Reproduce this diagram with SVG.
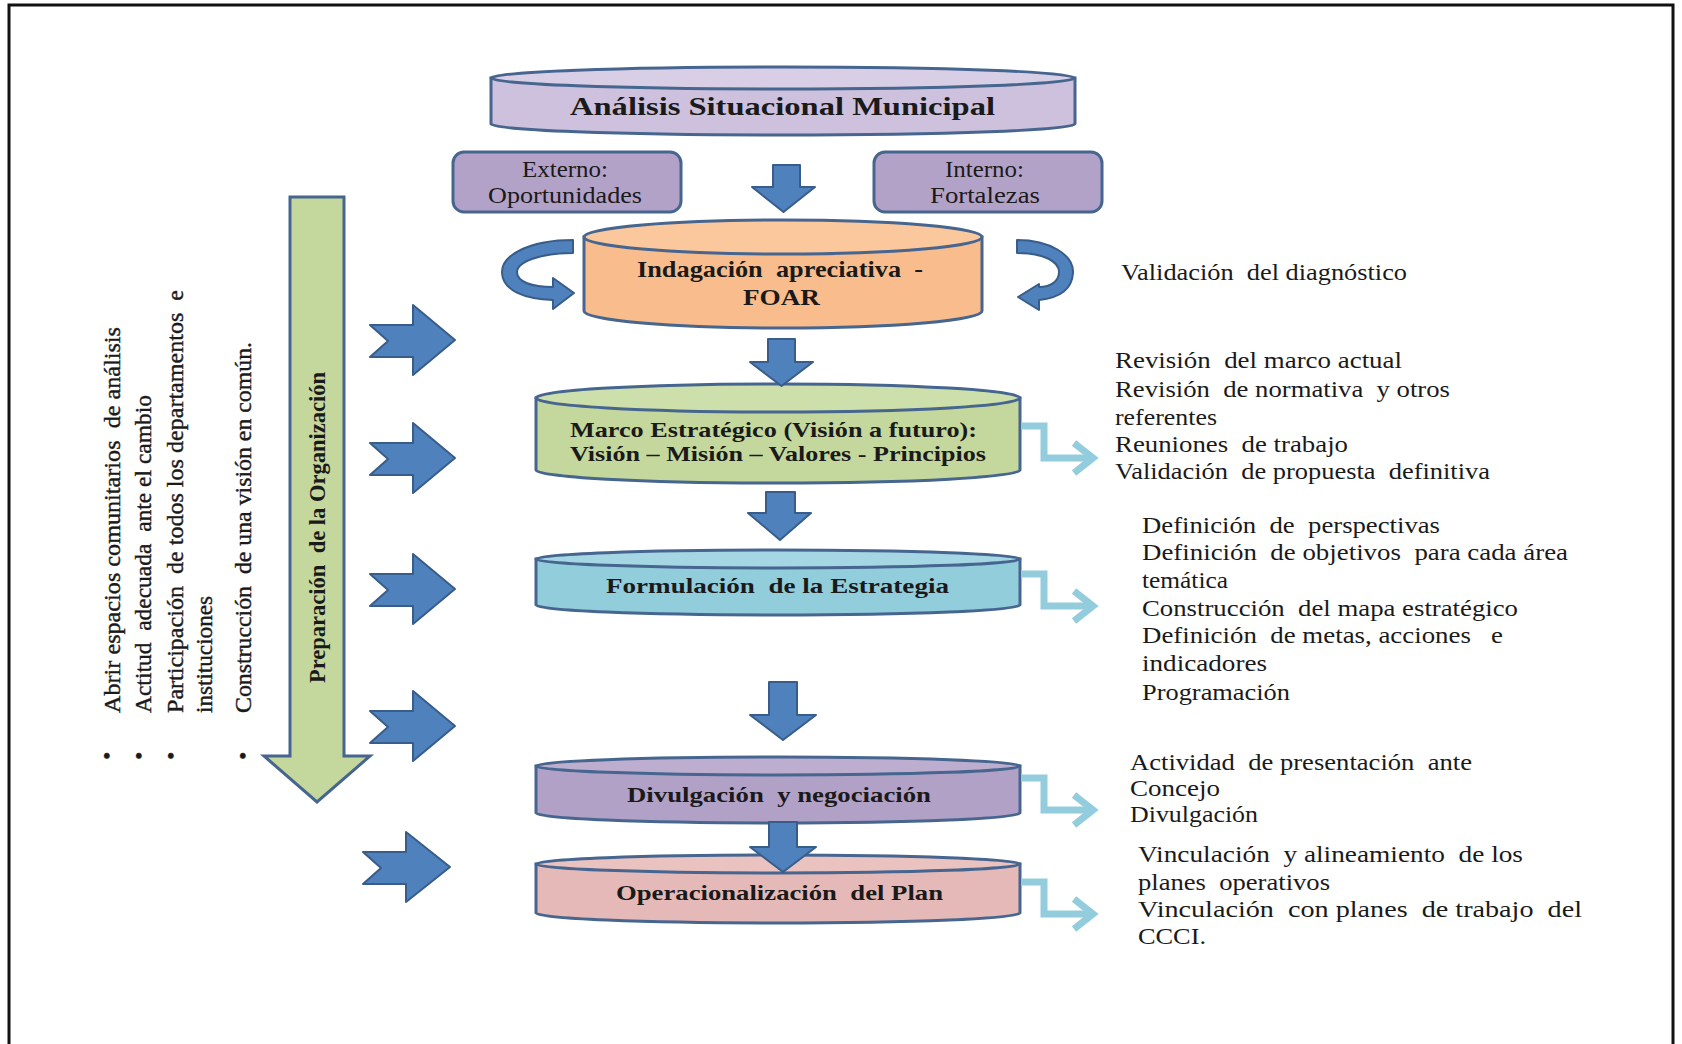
<svg xmlns="http://www.w3.org/2000/svg" width="1682" height="1044" viewBox="0 0 1682 1044" xml:space="preserve">
<style>
.frame{fill:none;stroke:#111;stroke-width:3}
.cyl{stroke:#46658f;stroke-width:3}
.box{stroke:#46658f;stroke-width:3}
.blue{fill:#4f81bd;stroke:#385d8a;stroke-width:2;stroke-linejoin:round}
.elbow{fill:none;stroke:#93cddd;stroke-width:7;stroke-linejoin:miter}
.t{font-family:"Liberation Serif","Times New Roman",serif;fill:#1a1a1a;white-space:pre}
.b{font-weight:bold}
.r{font-size:23px}
.m{font-size:24px;stroke:#1a1a1a;stroke-width:0.4}
</style>
<rect x="0" y="0" width="1682" height="1044" fill="#fff"/>
<rect class="frame" x="9" y="5" width="1664" height="1060"/>

<g id="preparacion">
  <polygon points="290,197 344,197 344,756 370,756 317,802 264,756 290,756" fill="#c4d79c" stroke="#46658f" stroke-width="3" stroke-linejoin="miter"/>
  <text class="t b" font-size="24" transform="translate(325,683) rotate(-90)" textLength="311" lengthAdjust="spacingAndGlyphs">Preparación  de la Organización</text>
</g>

<g id="bullets">
  <text class="t m" transform="translate(120,713) rotate(-90)" textLength="386" lengthAdjust="spacingAndGlyphs">Abrir espacios comunitarios  de análisis</text>
  <text class="t m" transform="translate(151,713) rotate(-90)" textLength="318" lengthAdjust="spacingAndGlyphs">Actitud  adecuada  ante el cambio</text>
  <text class="t m" transform="translate(183,713) rotate(-90)" textLength="423" lengthAdjust="spacingAndGlyphs">Participación  de todos los departamentos  e</text>
  <text class="t m" transform="translate(212,713) rotate(-90)" textLength="117" lengthAdjust="spacingAndGlyphs">instituciones</text>
  <text class="t m" transform="translate(251,713) rotate(-90)" textLength="371" lengthAdjust="spacingAndGlyphs">Construcción  de una visión en común.</text>
  <text class="t m" font-size="30" transform="translate(115,760) rotate(-90)">•</text>
  <text class="t m" font-size="30" transform="translate(147,760) rotate(-90)">•</text>
  <text class="t m" font-size="30" transform="translate(179,760) rotate(-90)">•</text>
  <text class="t m" font-size="30" transform="translate(251,760) rotate(-90)">•</text>
</g>

<g id="analisis">
  <path class="cyl" fill="#cdc1dd" d="M491 78 L491 124 A292 11 0 0 0 1075 124 L1075 78 Z"/>
  <ellipse class="cyl" cx="783" cy="78" rx="292" ry="11" fill="#d8cfe6"/>
  <text class="t b" font-size="25" x="570" y="115" textLength="425" lengthAdjust="spacingAndGlyphs">Análisis Situacional Municipal</text>
</g>

<g id="externo">
  <rect class="box" x="453" y="152" width="228" height="60" rx="11" fill="#b3a2c8"/>
  <text class="t r" x="522" y="177" textLength="86" lengthAdjust="spacingAndGlyphs">Externo:</text>
  <text class="t r" x="488" y="203" textLength="154" lengthAdjust="spacingAndGlyphs">Oportunidades</text>
</g>

<g id="interno">
  <rect class="box" x="874" y="152" width="228" height="60" rx="11" fill="#b3a2c8"/>
  <text class="t r" x="945" y="177" textLength="79" lengthAdjust="spacingAndGlyphs">Interno:</text>
  <text class="t r" x="930" y="203" textLength="110" lengthAdjust="spacingAndGlyphs">Fortalezas</text>
</g>

<g id="foar">
  <path class="cyl" fill="#f9bd8d" d="M584 237 L584 311 A199 17 0 0 0 982 311 L982 237 Z"/>
  <ellipse class="cyl" cx="783" cy="237" rx="199" ry="17" fill="#fbc79c"/>
  <text class="t b" font-size="23" x="637" y="277" textLength="286" lengthAdjust="spacingAndGlyphs">Indagación  apreciativa  -</text>
  <text class="t b" font-size="23" x="743" y="305" textLength="77" lengthAdjust="spacingAndGlyphs">FOAR</text>
</g>

<g id="marco">
  <path class="cyl" fill="#c4d79c" d="M536 398 L536 470 A242 13 0 0 0 1020 470 L1020 398 Z"/>
  <ellipse class="cyl" cx="778" cy="398" rx="242" ry="14" fill="#cddfaa"/>
  <text class="t b" font-size="22" x="570" y="437" textLength="407" lengthAdjust="spacingAndGlyphs">Marco Estratégico (Visión a futuro):</text>
  <text class="t b" font-size="22" x="570" y="461" textLength="416" lengthAdjust="spacingAndGlyphs">Visión – Misión – Valores - Principios</text>
</g>

<g id="formulacion">
  <path class="cyl" fill="#92cddc" d="M536 559 L536 605 A242 10 0 0 0 1020 605 L1020 559 Z"/>
  <ellipse class="cyl" cx="778" cy="559" rx="242" ry="9" fill="#a5d6e3"/>
  <text class="t b" font-size="22" x="606" y="593" textLength="343" lengthAdjust="spacingAndGlyphs">Formulación  de la Estrategia</text>
</g>

<g id="divulgacion">
  <path class="cyl" fill="#b2a1c7" d="M536 766 L536 813 A242 10 0 0 0 1020 813 L1020 766 Z"/>
  <ellipse class="cyl" cx="778" cy="766" rx="242" ry="9" fill="#bdaed0"/>
  <text class="t b" font-size="22" x="627" y="802" textLength="304" lengthAdjust="spacingAndGlyphs">Divulgación  y negociación</text>
</g>

<g id="operacionalizacion">
  <path class="cyl" fill="#e5b9b7" d="M536 864 L536 913 A242 10 0 0 0 1020 913 L1020 864 Z"/>
  <ellipse class="cyl" cx="778" cy="864" rx="242" ry="9" fill="#eac3c1"/>
  <text class="t b" font-size="22" x="616" y="900" textLength="327" lengthAdjust="spacingAndGlyphs">Operacionalización  del Plan</text>
</g>

<g id="validacion-text">
  <text class="t r" x="1121" y="280" textLength="286" lengthAdjust="spacingAndGlyphs">Validación  del diagnóstico</text>
</g>

<g id="marco-text">
  <text class="t r" x="1115" y="368" textLength="287" lengthAdjust="spacingAndGlyphs">Revisión  del marco actual</text>
  <text class="t r" x="1115" y="397" textLength="335" lengthAdjust="spacingAndGlyphs">Revisión  de normativa  y otros</text>
  <text class="t r" x="1115" y="425" textLength="102" lengthAdjust="spacingAndGlyphs">referentes</text>
  <text class="t r" x="1115" y="452" textLength="233" lengthAdjust="spacingAndGlyphs">Reuniones  de trabajo</text>
  <text class="t r" x="1115" y="479" textLength="375" lengthAdjust="spacingAndGlyphs">Validación  de propuesta  definitiva</text>
</g>

<g id="formulacion-text">
  <text class="t r" x="1142" y="533" textLength="298" lengthAdjust="spacingAndGlyphs">Definición  de  perspectivas</text>
  <text class="t r" x="1142" y="560" textLength="426" lengthAdjust="spacingAndGlyphs">Definición  de objetivos  para cada área</text>
  <text class="t r" x="1142" y="588" textLength="86" lengthAdjust="spacingAndGlyphs">temática</text>
  <text class="t r" x="1142" y="616" textLength="376" lengthAdjust="spacingAndGlyphs">Construcción  del mapa estratégico</text>
  <text class="t r" x="1142" y="643" textLength="361" lengthAdjust="spacingAndGlyphs">Definición  de metas, acciones   e</text>
  <text class="t r" x="1142" y="671" textLength="125" lengthAdjust="spacingAndGlyphs">indicadores</text>
  <text class="t r" x="1142" y="700" textLength="148" lengthAdjust="spacingAndGlyphs">Programación</text>
</g>

<g id="divulgacion-text">
  <text class="t r" x="1130" y="770" textLength="342" lengthAdjust="spacingAndGlyphs">Actividad  de presentación  ante</text>
  <text class="t r" x="1130" y="796" textLength="90" lengthAdjust="spacingAndGlyphs">Concejo</text>
  <text class="t r" x="1130" y="822" textLength="128" lengthAdjust="spacingAndGlyphs">Divulgación</text>
</g>

<g id="operacionalizacion-text">
  <text class="t r" x="1138" y="862" textLength="385" lengthAdjust="spacingAndGlyphs">Vinculación  y alineamiento  de los</text>
  <text class="t r" x="1138" y="890" textLength="192" lengthAdjust="spacingAndGlyphs">planes  operativos</text>
  <text class="t r" x="1138" y="917" textLength="444" lengthAdjust="spacingAndGlyphs">Vinculación  con planes  de trabajo  del</text>
  <text class="t r" x="1138" y="944" textLength="68" lengthAdjust="spacingAndGlyphs">CCCI.</text>
</g>

<g id="connectors">
  <polygon class="blue" points="773,165 800,165 800,187 815,187 783.5,212 752,187 773,187"/>
  <polygon class="blue" points="768,339 795,339 795,362 813,362 781.5,386 750,362 768,362"/>
  <polygon class="blue" points="766,492 795,492 795,513 811,513 780,540 748,513 766,513"/>
  <polygon class="blue" points="769,682 797,682 797,715 816,715 783,740 750,715 769,715"/>
  <polygon class="blue" points="769,822 797,822 797,847 816,847 783,872 750,847 769,847"/>
  <path class="blue" d="M573 240 C530 240 501 255 502 273 C503 291 525 299 553 300 L553 309 L574 293 L553 278 L553 287 C532 287 517 282 517 272 C517 262 540 253 573 253 Z"/>
  <path class="blue" d="M1017 240 C1050 240 1074 255 1073 273 C1072 290 1058 298 1039 300 L1039 310 L1018 297 L1039 284 L1039 287 C1051 287 1059 281 1059 272 C1059 262 1045 253 1017 253 Z"/>
  <polygon class="blue" points="370,325 413,325 413,305 455,340 413,375 413,357 370,357 388,341"/>
  <polygon class="blue" points="370,443 413,443 413,423 455,458 413,493 413,475 370,475 388,459"/>
  <polygon class="blue" points="370,574 413,574 413,554 455,589 413,624 413,606 370,606 388,590"/>
  <polygon class="blue" points="370,711 413,711 413,691 455,726 413,761 413,743 370,743 388,727"/>
  <polygon class="blue" points="363,852 406,852 406,832 450,867 406,902 406,884 363,884 381,868"/>
  <polyline class="elbow" points="1021,426 1044,426 1044,458 1092,458"/>
  <polyline class="elbow" points="1074,443 1093,458 1074,473"/>
  <polyline class="elbow" points="1021,574 1044,574 1044,606 1092,606"/>
  <polyline class="elbow" points="1074,591 1093,606 1074,621"/>
  <polyline class="elbow" points="1021,778 1044,778 1044,810 1092,810"/>
  <polyline class="elbow" points="1074,795 1093,810 1074,825"/>
  <polyline class="elbow" points="1021,882 1044,882 1044,914 1092,914"/>
  <polyline class="elbow" points="1074,899 1093,914 1074,929"/>
</g>
</svg>
